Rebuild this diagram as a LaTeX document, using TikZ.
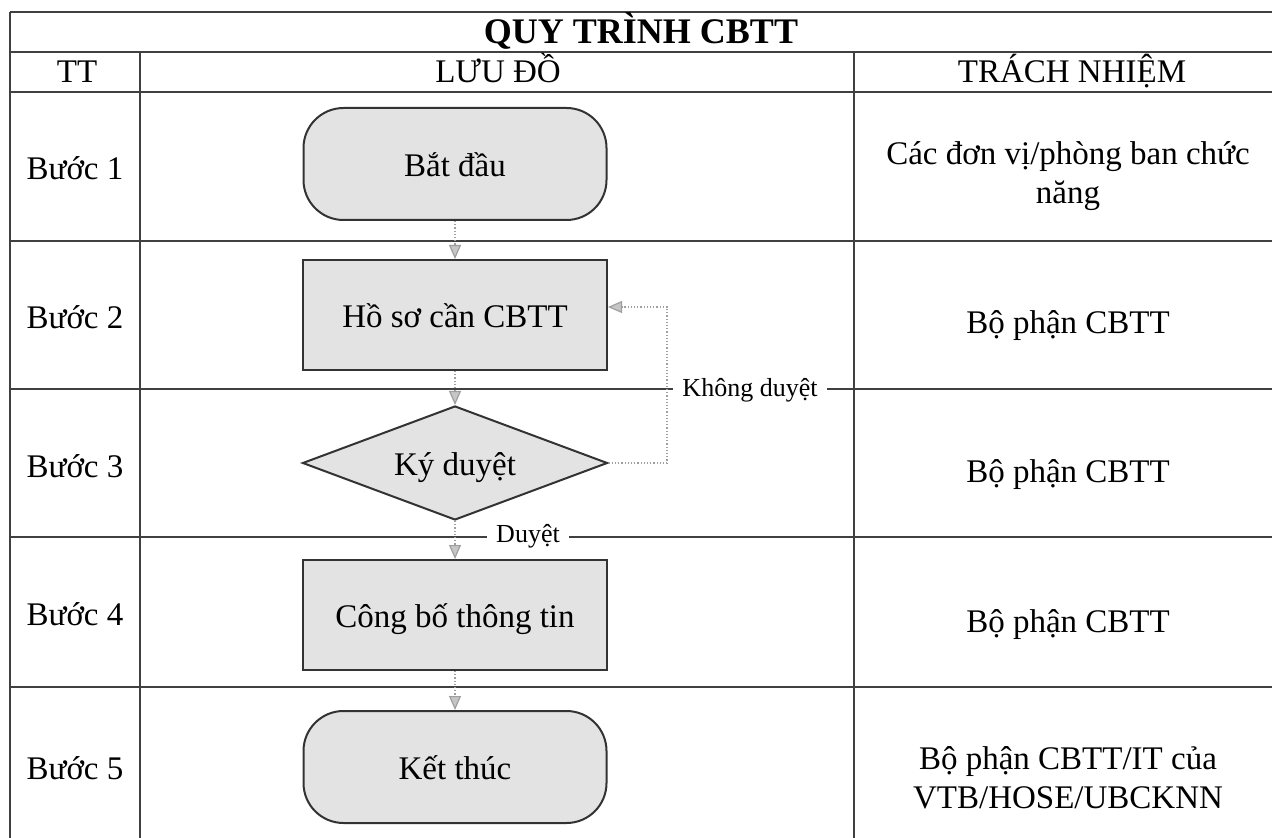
\documentclass[tikz,border=0pt]{standalone}
\usepackage{fontspec}
\setmainfont{Liberation Serif}
\usetikzlibrary{arrows.meta,shapes.geometric}

\begin{document}
\begin{tikzpicture}[x=0.5pt, y=-0.5pt,
    every node/.style={font=\fontsize{16.5}{19.5}\selectfont, inner sep=0pt,
      text height=16pt, text depth=3.3pt},
    multi/.style={align=center, text height={}, text depth={}},
    grid/.style={black!75, line width=0.8pt},
    terminal/.style={draw=black!80, line width=1pt, fill=gray!22, rounded corners=20pt,
      minimum width=151.5pt, minimum height=56pt},
    process/.style={draw=black!80, line width=1pt, fill=gray!22,
      minimum width=152pt, minimum height=55pt},
    decision/.style={diamond, aspect=2.67, draw=black!80, line width=1pt, fill=gray!22,
      minimum width=152.5pt, minimum height=57pt},
    flow/.style={gray!75, line width=0.6pt, densely dotted,
      -{Triangle[width=6pt, length=7pt, fill=gray!45]}},
    tag/.style={fill=white, inner xsep=4.5pt, inner ysep=1pt, text height=11pt, text depth=3pt,
      font=\fontsize{13}{15}\selectfont}]
  \useasboundingbox (0,0) rectangle (1272,838);

  % 表格线
  \draw[grid] (10,12) -- (1272,12);
  \foreach \y in {52,92,241,389,537,687}
    \draw[grid] (10,\y) -- (1272,\y);
  \draw[grid] (10,12) -- (10,838);
  \draw[grid] (140,52) -- (140,838);
  \draw[grid] (854,52) -- (854,838);

  % 标题与表头
  \node[font=\bfseries\fontsize{18}{22}\selectfont] (title) at (641,31) {QUY TRÌNH CBTT};
  \node (hTT) at (77,70) {TT};
  \node (hLD) at (498,70) {LƯU ĐỒ};
  \node (hTN) at (1072,70) {TRÁCH NHIỆM};

  % 步骤编号
  \foreach \i/\y in {1/167,2/316,3/465,4/613,5/767}
    \node (b\i) at (75,\y) {Bước \i};

  % 流程图
  \node[terminal] (start) at (455,164) {Bắt đầu};
  \node[process] (hoso) at (455,315) {Hồ sơ cần CBTT};
  \node[decision] (kyduyet) at (455,463) {Ký duyệt};
  \node[process] (congbo) at (455,615) {Công bố thông tin};
  \node[terminal] (ketthuc) at (455,767) {Kết thúc};

  \draw[flow] (start) -- (hoso);
  \draw[flow] (hoso) -- (kyduyet);
  \draw[flow] (kyduyet) -- (congbo);
  \draw[flow] (congbo) -- (ketthuc);
  \coordinate (loop) at (667,463);
  \draw[flow] (kyduyet.east) -- (loop) |- ([yshift=4pt]hoso.east);

  % 连线标注
  \node[tag] (khong) at (750,389) {Không duyệt};
  \node[tag] (duyet) at (528,535) {Duyệt};

  % 责任
  \node[multi] (tn1) at (1068,176) {Các đơn vị/phòng ban chức\\năng};
  \node (tn2) at (1068,321) {Bộ phận CBTT};
  \node (tn3) at (1068,470) {Bộ phận CBTT};
  \node (tn4) at (1068,620) {Bộ phận CBTT};
  \node[multi] (tn5) at (1068,778) {Bộ phận CBTT/IT của\\VTB/HOSE/UBCKNN};
\end{tikzpicture}
\end{document}
